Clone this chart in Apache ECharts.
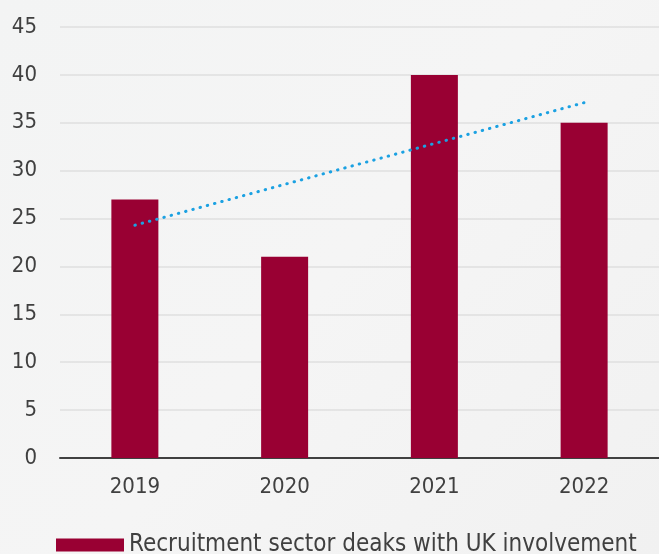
<!DOCTYPE html>
<html><head><meta charset="utf-8">
<script src="https://cdn.jsdelivr.net/npm/echarts@6/dist/echarts.min.js"></script>
<style>html,body{margin:0;padding:0;background:#f3f4f4;}#c{width:659px;height:554px;}</style>
</head><body><div id="c"></div>
<script>
var categories = ['2019', '2020', '2021', '2022'];
var deals = [27, 21, 40, 35];
var trend = [24.3, null, null, 37.1];
var seriesName = 'Recruitment sector deaks with UK involvement';

var chart = echarts.init(document.getElementById('c'));
chart.setOption({
  backgroundColor: {
    type: 'linear', x: 0, y: 0, x2: 1, y2: 1,
    colorStops: [{offset: 0, color: '#f3f4f4'}, {offset: 0.5, color: '#f5f5f5'}, {offset: 1, color: '#f1f1f1'}]
  },
  animation: false,
  textStyle: {fontFamily: 'DejaVu Sans Condensed'},
  grid: {left: 60, right: 0, top: 27, bottom: 96, containLabel: false},
  legend: {
    data: [{name: seriesName, icon: 'rect'}],
    left: 51, top: 528,
    itemWidth: 68, itemHeight: 13, itemGap: 8,
    textStyle: {fontSize: 24, color: '#404040', fontFamily: 'DejaVu Sans Condensed'}
  },
  xAxis: {
    type: 'category', data: categories,
    axisLine: {lineStyle: {color: '#404040', width: 2}},
    axisTick: {show: false},
    axisLabel: {fontSize: 22, color: '#404040', margin: 18, fontFamily: 'DejaVu Sans Condensed'}
  },
  yAxis: {
    type: 'value', min: 0, max: 45, interval: 5,
    axisLine: {show: false}, axisTick: {show: false},
    axisLabel: {fontSize: 22, color: '#404040', margin: 23, fontFamily: 'DejaVu Sans Condensed'},
    splitLine: {lineStyle: {color: '#dfdfdf', width: 1.5}}
  },
  series: [
    {name: seriesName, type: 'bar', data: deals, barWidth: 47,
     itemStyle: {color: '#990033'}},
    {name: 'trend', type: 'line', data: trend, connectNulls: true,
     symbol: 'none', z: 5,
     lineStyle: {color: '#1ba1e2', width: 3, type: [0.5, 7], cap: 'round'}}
  ]
});
</script></body></html>
